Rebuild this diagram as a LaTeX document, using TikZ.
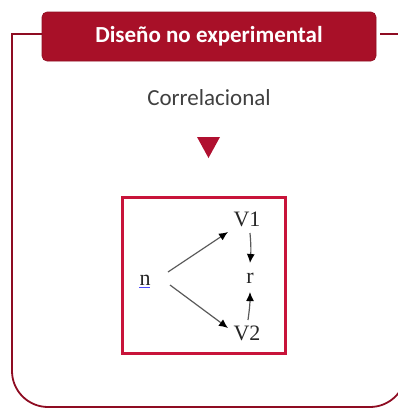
\documentclass[tikz,border=0pt]{standalone}
\usepackage{fontspec}
\setmainfont{Liberation Serif}
\newfontfamily\carlitofont{Carlito}
\usetikzlibrary{arrows.meta}
\definecolor{titlered}{HTML}{A81028}
\definecolor{framered}{HTML}{8E0C22}
\definecolor{boxred}{HTML}{C8143A}
\definecolor{tri}{HTML}{B01030}
\definecolor{txtgray}{HTML}{404040}
\definecolor{arrgray}{HTML}{5A5A5A}
\tikzset{
  frame/.style={draw=framered,line width=1.8pt},
  titlebox/.style={fill=titlered,draw=titlered!85!black,line width=0.6pt,rounded corners=5pt,
     minimum width=334pt,minimum height=49pt,inner sep=0pt,
     text=white,font=\carlitofont\bfseries\fontsize{23}{23}\selectfont},
  sublabel/.style={text=txtgray,font=\carlitofont\fontsize{23}{23}\selectfont,inner sep=0pt},
  var/.style={font=\fontsize{22}{22}\selectfont,inner sep=0pt,anchor=base,text=black!85},
  arr/.style={draw=arrgray,line width=1.2pt,-{Latex[black,length=9pt,width=8pt]}},
}
\begin{document}
\begin{tikzpicture}[x=1pt,y=-1pt]
\useasboundingbox (0,0) rectangle (398,408);
% outer frame
\draw[frame] (42,34) -- (12,34) -- (12,100) [rounded corners=36pt] -- (12,407) -- (406,407) -- (406,100) [sharp corners] -- (406,34) -- (380,34);
% title
\node[titlebox] (title) at (209,36.5) {Diseño no experimental};
\node[sublabel] (corr) at (209,98) {Correlacional};
\fill[tri] (197,137) -- (220,137) -- (208.5,158) -- cycle;
% inner box
\node[draw=boxred,line width=3pt,minimum width=163pt,minimum height=156pt,inner sep=0pt] (box) at (203.5,275) {};
% variables
\node[var] (n) at (145,285) {n\llap{\color{blue!70}\rule[-3pt]{11pt}{0.7pt}\hspace{0.3pt}}};
\node[var] (v1) at (247,226) {V1};
\node[var] (r) at (250,283) {r};
\node[var] (v2) at (247,340) {V2};
% connectors
\draw[arr] ([shift={(23,-13)}]n.base) -- ([shift={(-19,6)}]v1.base);
\draw[arr] ([shift={(25,0)}]n.base) -- ([shift={(-19,-12)}]v2.base);
\draw[arr] ([shift={(3,7)}]v1.base) to[bend left=5] ([shift={(0,-20)}]r.base);
\draw[arr] ([shift={(1,-20)}]v2.base) to[bend right=4] ([shift={(0,9)}]r.base);
\end{tikzpicture}
\end{document}
